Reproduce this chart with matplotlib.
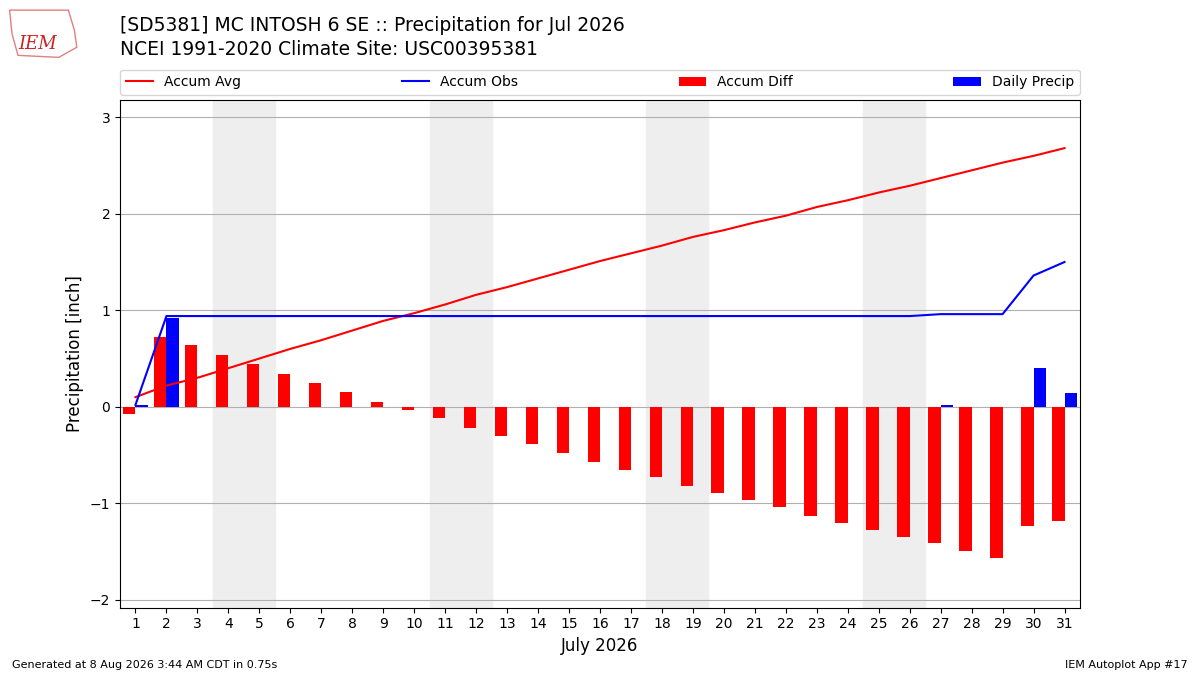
import numpy as np
import matplotlib.pyplot as plt

days = list(range(1, 32))
accum_avg = [0.10, 0.22, 0.30, 0.40, 0.50, 0.60, 0.69, 0.79, 0.89, 0.97,
             1.06, 1.16, 1.24, 1.33, 1.42, 1.51, 1.59, 1.67, 1.76, 1.83,
             1.91, 1.98, 2.07, 2.14, 2.22, 2.29, 2.37, 2.45, 2.53, 2.60, 2.68]
accum_obs = [0.02, 0.94, 0.94, 0.94, 0.94, 0.94, 0.94, 0.94, 0.94, 0.94,
             0.94, 0.94, 0.94, 0.94, 0.94, 0.94, 0.94, 0.94, 0.94, 0.94,
             0.94, 0.94, 0.94, 0.94, 0.94, 0.94, 0.96, 0.96, 0.96, 1.36, 1.50]
accum_diff = [-0.08, 0.72, 0.64, 0.54, 0.44, 0.34, 0.25, 0.15, 0.05, -0.03,
              -0.12, -0.22, -0.30, -0.39, -0.48, -0.57, -0.65, -0.73, -0.82, -0.89,
              -0.97, -1.04, -1.13, -1.20, -1.28, -1.35, -1.41, -1.49, -1.57, -1.24, -1.18]
daily_precip = [0.02, 0.92, 0, 0, 0, 0, 0, 0, 0, 0,
                0, 0, 0, 0, 0, 0, 0, 0, 0, 0,
                0, 0, 0, 0, 0, 0, 0.02, 0, 0, 0.40, 0.14]
weekends = [(4, 5), (11, 12), (18, 19), (25, 26)]

fig = plt.figure(figsize=(12, 6.75), dpi=100)
ax = fig.add_axes([0.1, 0.1, 0.8, 0.752])

for d0, d1 in weekends:
    ax.axvspan(d0 - 0.5, d1 + 0.5, color='#eeeeee', zorder=0)

ax.plot(days, accum_avg, color='r', label='Accum Avg', zorder=3)
ax.plot(days, accum_obs, color='b', label='Accum Obs', zorder=3)
x = np.array(days)
ax.bar(x - 0.4, accum_diff, width=0.4, align='edge', color='r', label='Accum Diff', zorder=2)
ax.bar(x, daily_precip, width=0.4, align='edge', color='b', label='Daily Precip', zorder=2)

ax.set_xlim(0.5, 31.5)
ax.set_ylim(-2.08, 3.18)
ax.set_xticks(days)
ax.set_yticks([-2, -1, 0, 1, 2, 3])
ax.grid(True, axis='y', color='#b0b0b0', zorder=1)
ax.set_axisbelow(True)
ax.set_xlabel('July 2026', fontsize=12)
ax.set_ylabel('Precipitation [inch]', fontsize=12)

ax.legend(loc='lower left', bbox_to_anchor=(0, 1.01, 1, 0.05), mode='expand',
          ncol=4, borderaxespad=0, fontsize=10)

fig.text(0.1, 0.962, '[SD5381] MC INTOSH 6 SE :: Precipitation for Jul 2026',
         fontsize=13.5, va='center', ha='left')
fig.text(0.1, 0.927, 'NCEI 1991-2020 Climate Site: USC00395381',
         fontsize=13.5, va='center', ha='left')
# rough stand-in for the IEM logo
fig.patches.append(plt.Polygon([[0.008, 0.985], [0.057, 0.985], [0.062, 0.955],
                                [0.064, 0.93], [0.052, 0.918], [0.049, 0.915],
                                [0.015, 0.918], [0.01, 0.95]],
                               closed=True, fill=False, edgecolor='#e08080',
                               linewidth=1, transform=fig.transFigure))
fig.text(0.031, 0.935, 'IEM', color='#cc2222', fontsize=13, family='serif',
         style='italic', va='center', ha='center')
fig.text(0.01, 0.011, 'Generated at 8 Aug 2026 3:44 AM CDT in 0.75s', fontsize=8)
fig.text(0.99, 0.011, 'IEM Autoplot App #17', fontsize=8, ha='right')

fig.savefig('out.png', dpi=100)
